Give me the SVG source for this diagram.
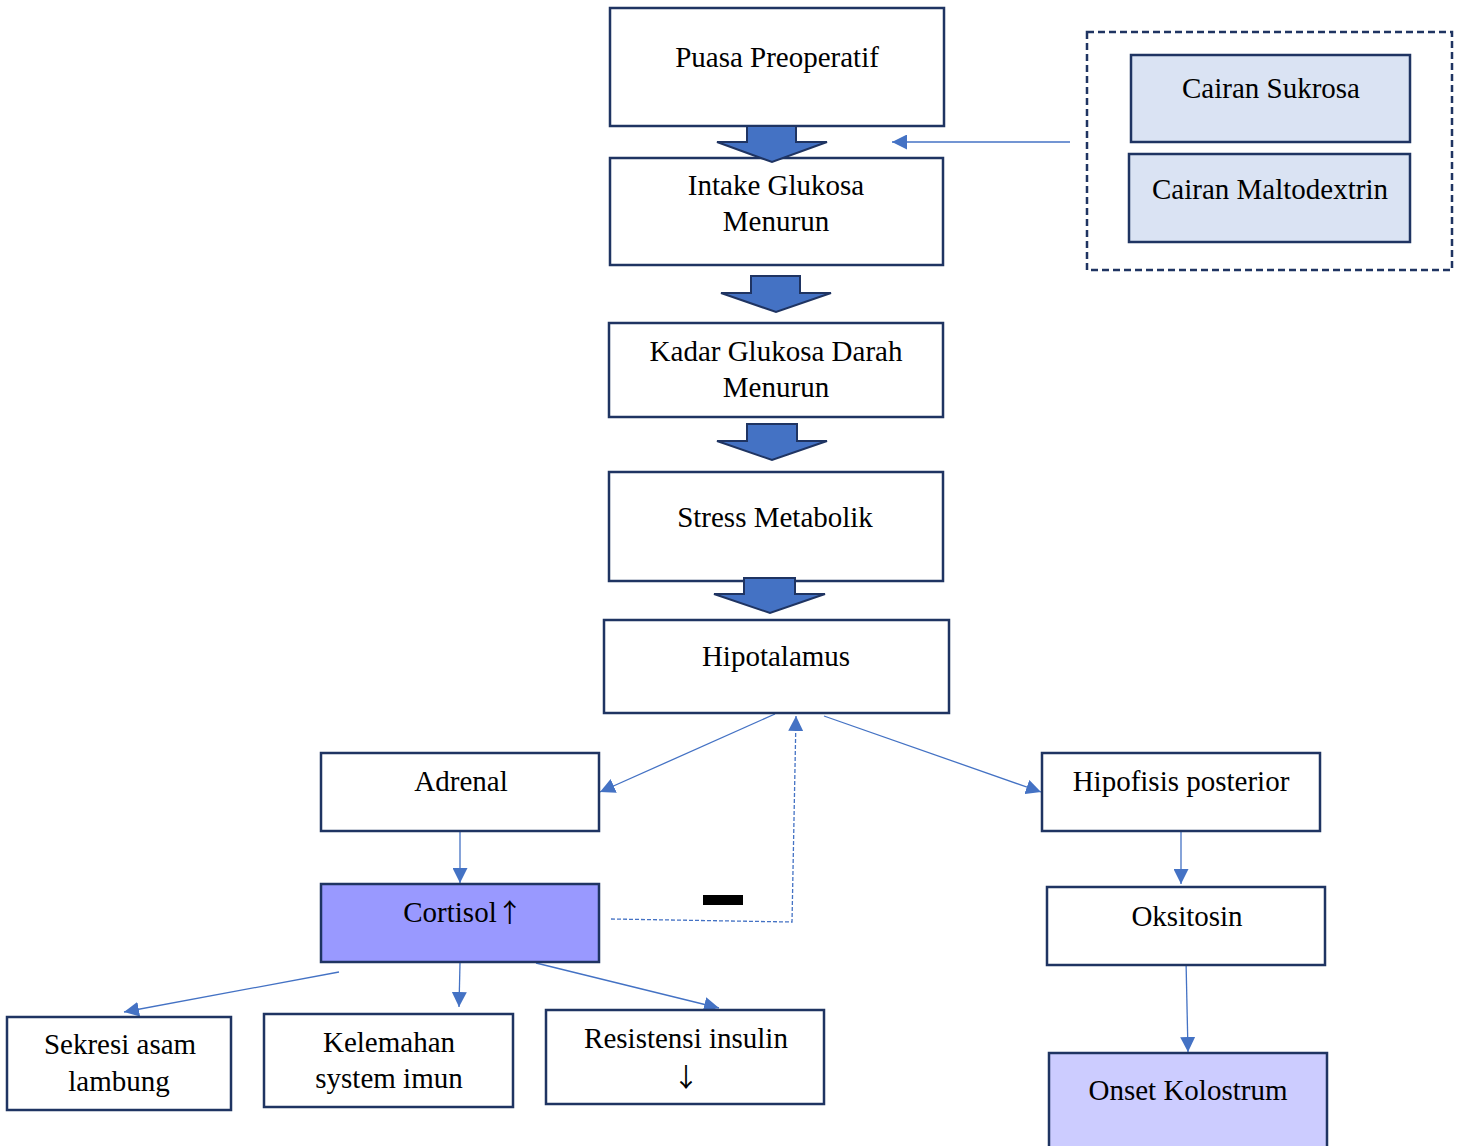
<svg xmlns="http://www.w3.org/2000/svg" width="1459" height="1146" viewBox="0 0 1459 1146">
  <style>
    .box { fill: #ffffff; stroke: #1f3462; stroke-width: 2.5; }
    .hi { fill: #9999ff; }
    .lo { fill: #ccccff; }
    .opt { fill: #dae3f3; }
    .lbl { font-family: "Liberation Serif", "Times New Roman", serif; font-size: 29px; fill: #000; text-anchor: middle; }
    .arw { font-family: "Noto Sans CJK SC", "DejaVu Sans", sans-serif; font-size: 26px; }
    .blk { fill: #4472c4; stroke: #1f3462; stroke-width: 2; stroke-linejoin: miter; }
    .ln { fill: none; stroke: #4472c4; stroke-width: 1.3; }
    .dash { fill: none; stroke: #4472c4; stroke-width: 1.3; stroke-dasharray: 4 2; }
  </style>
  <defs>
    <marker id="triL" viewBox="0 0 10 10" refX="10" refY="5" markerWidth="15" markerHeight="15" markerUnits="userSpaceOnUse" orient="auto">
      <path d="M0,0 L10,5 L0,10 Z" fill="#4472c4"/>
    </marker>
  </defs>

  <rect width="1459" height="1146" fill="#ffffff"/>

  <!-- connectors -->
  <g id="connectors">
    <line class="ln" x1="1070" y1="142" x2="892" y2="142" marker-end="url(#triL)"/>
    <line class="ln" x1="775" y1="714" x2="600" y2="792" marker-end="url(#triL)"/>
    <line class="ln" x1="824" y1="716" x2="1041" y2="792" marker-end="url(#triL)"/>
    <polyline class="dash" points="611,919 792,922 796,716" marker-end="url(#triL)"/>
    <line class="ln" x1="460" y1="831" x2="460" y2="883" marker-end="url(#triL)"/>
    <line class="ln" x1="1181" y1="831" x2="1181" y2="884" marker-end="url(#triL)"/>
    <line class="ln" x1="1186" y1="960" x2="1188" y2="1052" marker-end="url(#triL)"/>
    <line class="ln" x1="339" y1="972" x2="124" y2="1012" marker-end="url(#triL)"/>
    <line class="ln" x1="460" y1="963" x2="459" y2="1007" marker-end="url(#triL)"/>
    <line class="ln" x1="536" y1="963" x2="719" y2="1008" marker-end="url(#triL)"/>
  </g>

  <!-- inhibition sign on the feedback loop -->
  <rect id="minus" x="703" y="895" width="40" height="10" fill="#000000"/>

  <g id="puasa">
    <rect class="box" x="610" y="8" width="334" height="118"/>
    <text class="lbl" x="777" y="67">Puasa Preoperatif</text>
  </g>
  <g id="intake">
    <rect class="box" x="610" y="158" width="333" height="107"/>
    <text class="lbl" x="776" y="195">Intake Glukosa</text>
    <text class="lbl" x="776" y="231">Menurun</text>
  </g>
  <g id="kadar">
    <rect class="box" x="609" y="323" width="334" height="94"/>
    <text class="lbl" x="776" y="361">Kadar Glukosa Darah</text>
    <text class="lbl" x="776" y="397">Menurun</text>
  </g>
  <g id="stress">
    <rect class="box" x="609" y="472" width="334" height="109"/>
    <text class="lbl" x="775" y="527">Stress Metabolik</text>
  </g>
  <g id="hipotalamus">
    <rect class="box" x="604" y="620" width="345" height="93"/>
    <text class="lbl" x="776" y="666">Hipotalamus</text>
  </g>
  <g id="adrenal">
    <rect class="box" x="321" y="753" width="278" height="78"/>
    <text class="lbl" x="461" y="791">Adrenal</text>
  </g>
  <g id="hipofisis">
    <rect class="box" x="1042" y="753" width="278" height="78"/>
    <text class="lbl" x="1181" y="791">Hipofisis posterior</text>
  </g>
  <g id="cortisol">
    <rect class="box hi" x="321" y="884" width="278" height="78"/>
    <text class="lbl" x="463" y="922">Cortisol<tspan class="arw">↑</tspan></text>
  </g>
  <g id="oksitosin">
    <rect class="box" x="1047" y="887" width="278" height="78"/>
    <text class="lbl" x="1187" y="926">Oksitosin</text>
  </g>
  <g id="kolostrum">
    <rect class="box lo" x="1049" y="1053" width="278" height="100"/>
    <text class="lbl" x="1188" y="1100">Onset Kolostrum</text>
  </g>
  <g id="sekresi">
    <rect class="box" x="7" y="1017" width="224" height="93"/>
    <text class="lbl" x="120" y="1054">Sekresi asam</text>
    <text class="lbl" x="119" y="1091">lambung</text>
  </g>
  <g id="kelemahan">
    <rect class="box" x="264" y="1014" width="249" height="93"/>
    <text class="lbl" x="389" y="1052">Kelemahan</text>
    <text class="lbl" x="389" y="1088">system imun</text>
  </g>
  <g id="resistensi">
    <rect class="box" x="546" y="1010" width="278" height="94"/>
    <text class="lbl" x="686" y="1048">Resistensi insulin</text>
    <text class="lbl" x="686" y="1087"><tspan class="arw">↓</tspan></text>
  </g>

  <!-- dashed group of fluid options -->
  <g id="cairan">
    <rect x="1087" y="32" width="365" height="238" fill="none" stroke="#1f3462" stroke-width="2.5" stroke-dasharray="7 4"/>
    <g id="sukrosa">
      <rect class="box opt" x="1131" y="55" width="279" height="87"/>
      <text class="lbl" x="1271" y="98">Cairan Sukrosa</text>
    </g>
    <g id="maltodextrin">
      <rect class="box opt" x="1129" y="154" width="281" height="88"/>
      <text class="lbl" x="1270" y="199">Cairan Maltodextrin</text>
    </g>
  </g>

  <!-- block arrows along the main chain, drawn over the box edges -->
  <g id="block-arrows">
    <path class="blk" d="M747,126 L796,126 L796,142 L827,142 L772,162 L717,142 L747,142 Z"/>
    <path class="blk" d="M751,276 L800,276 L800,293 L831,293 L776,312 L721,293 L751,293 Z"/>
    <path class="blk" d="M747,424 L797,424 L797,441 L827,441 L772,460 L717,441 L747,441 Z"/>
    <path class="blk" d="M744,578 L795,578 L795,594 L825,594 L770,613 L714,594 L744,594 Z"/>
  </g>
</svg>
